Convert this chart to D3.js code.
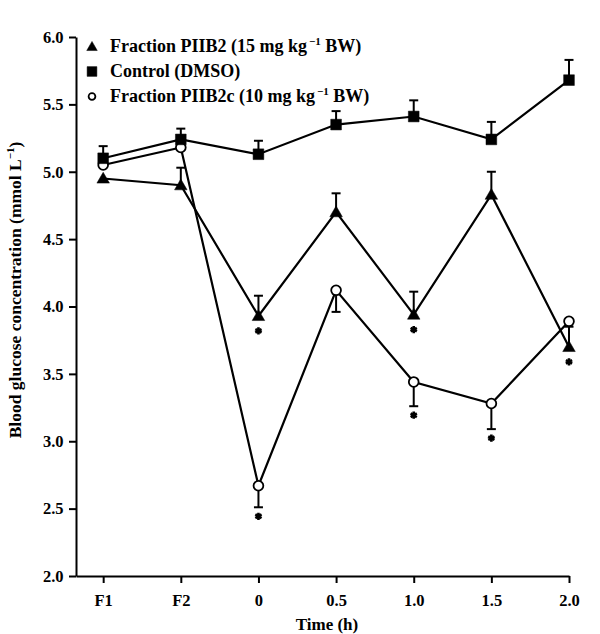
<!DOCTYPE html>
<html><head><meta charset="utf-8">
<script src="https://cdn.jsdelivr.net/npm/d3@7"></script>
<style>body{margin:0;background:#fff}svg{display:block}text{font-family:"Liberation Serif","Times New Roman",serif;fill:#000}</style>
</head><body><svg id="c" width="600" height="634"></svg>
<script>
const timeLabels = ["F1","F2","0","0.5","1.0","1.5","2.0"];
const yTicks = [2.0,2.5,3.0,3.5,4.0,4.5,5.0,5.5,6.0];
const piib2 = [4.95,4.90,3.93,4.70,3.94,4.83,3.70];
const piib2Err = [0,0.13,0.15,0.14,0.17,0.17,0.15];
const control = [5.10,5.24,5.13,5.35,5.41,5.24,5.68];
const controlErr = [0.09,0.08,0.10,0.10,0.12,0.13,0.15];
const piib2c = [5.05,5.18,2.67,4.12,3.44,3.28,3.89];
const piib2cErr = [0,0,0.16,0.16,0.18,0.19,0];
const piib2Sig = [2,4,6];
const piib2cSig = [2,4,5];

const svg = d3.select("#c");
const x = d3.scaleLinear().domain([-0.35,6]).range([76,569]);
const y = d3.scaleLinear().domain([2,6]).range([576,37]);

// axes
const xa = svg.append("g").attr("transform","translate(0,576)")
  .call(d3.axisBottom(x).tickValues(d3.range(timeLabels.length)).tickFormat(i=>timeLabels[i]).tickSize(7).tickSizeOuter(0));
const ya = svg.append("g").attr("transform","translate(76,0)")
  .call(d3.axisLeft(y).tickValues(yTicks).tickFormat(d3.format(".1f")).tickSize(7).tickSizeOuter(0));
[xa,ya].forEach(a=>{
  a.select(".domain").attr("stroke","#000").attr("stroke-width",2);
  a.selectAll(".tick line").attr("stroke","#000").attr("stroke-width",2);
  a.selectAll(".tick text").attr("font-size",16.5).attr("font-weight","bold").attr("fill","#000")
   .style("font-family",'"Liberation Serif",serif');
});
xa.selectAll(".tick text").attr("dy","1.2em");
ya.selectAll(".tick text").attr("dx","-0.15em");

svg.append("text").attr("x",327).attr("y",630).attr("text-anchor","middle")
  .attr("font-size",17).attr("font-weight","bold").text("Time (h)");
const yt = svg.append("text").attr("transform","translate(21,290) rotate(-90)").attr("text-anchor","middle")
  .attr("font-size",17.5).attr("font-weight","bold");
yt.append("tspan").text("Blood glucose concentration (mmol L");
yt.append("tspan").attr("font-size",11).attr("dy",-7).text("\u22121");
yt.append("tspan").attr("dy",7).text(")");

const line = d3.line().x((d,i)=>x(i)).y(d=>y(d));
const series = [
  {v:piib2,e:piib2Err,dir:1,sym:d3.symbolTriangle,size:68,fill:"#000",sig:piib2Sig},
  {v:piib2c,e:piib2cErr,dir:-1,sym:d3.symbolCircle,size:75,fill:"#fff",sig:piib2cSig},
  {v:control,e:controlErr,dir:1,sym:d3.symbolSquare,size:115,fill:"#000",sig:[]}
];
// error bars
series.forEach(s=>{
  const g = svg.append("g").attr("stroke","#000").attr("stroke-width",2);
  s.v.forEach((v,i)=>{
    if(!s.e[i]) return;
    const y0=y(v), y1=y(v+s.dir*s.e[i]);
    g.append("line").attr("x1",x(i)).attr("x2",x(i)).attr("y1",y0).attr("y2",y1);
    g.append("line").attr("x1",x(i)-4.5).attr("x2",x(i)+4.5).attr("y1",y1).attr("y2",y1);
  });
});
// lines
series.forEach(s=>{
  svg.append("path").datum(s.v).attr("d",line).attr("fill","none").attr("stroke","#000").attr("stroke-width",2.2);
});
// markers
series.forEach(s=>{
  svg.append("g").selectAll("path").data(s.v).join("path")
    .attr("transform",(d,i)=>`translate(${x(i)},${y(d)+(s.sym===d3.symbolTriangle?1:0)})`)
    .attr("d",d3.symbol(s.sym,s.size)).attr("fill",s.fill).attr("stroke","#000").attr("stroke-width",s.fill==="#fff"?1.8:0.5);
});
// significance asterisks
series.forEach(s=>{
  s.sig.forEach(i=>{
    const low = s.dir<0 ? y(s.v[i]-s.e[i]) : y(s.v[i])+6;
    svg.append("path").attr("transform",`translate(${x(i)},${low+9})`)
      .attr("d",d3.symbol(d3.symbolAsterisk,36)).attr("fill","none").attr("stroke","#000").attr("stroke-width",2.6);
  });
});

// legend
const legend = [
  {sym:d3.symbolTriangle,size:48,fill:"#000",label:"Fraction PIIB2 (15 mg kg",sup:"\u22121",tail:" BW)"},
  {sym:d3.symbolSquare,size:95,fill:"#000",label:"Control (DMSO)"},
  {sym:d3.symbolCircle,size:36,fill:"#fff",label:"Fraction PIIB2c (10 mg kg",sup:"\u22121",tail:" BW)"}
];
legend.forEach((l,k)=>{
  const cy = 46.5 + k*25;
  svg.append("path").attr("transform",`translate(92,${cy+(k===0?1:0)})`).attr("d",d3.symbol(l.sym,l.size))
    .attr("fill",l.fill).attr("stroke","#000").attr("stroke-width",l.fill==="#fff"?1.8:0.5);
  const t = svg.append("text").attr("x",110).attr("y",cy+5.5).attr("font-size",18).attr("font-weight","bold");
  t.append("tspan").text(l.label);
  if(l.sup){
    t.append("tspan").attr("font-size",11).attr("dx",2).attr("dy",-7).text(l.sup);
    t.append("tspan").attr("dy",7).text(l.tail);
  }
});
</script></body></html>
